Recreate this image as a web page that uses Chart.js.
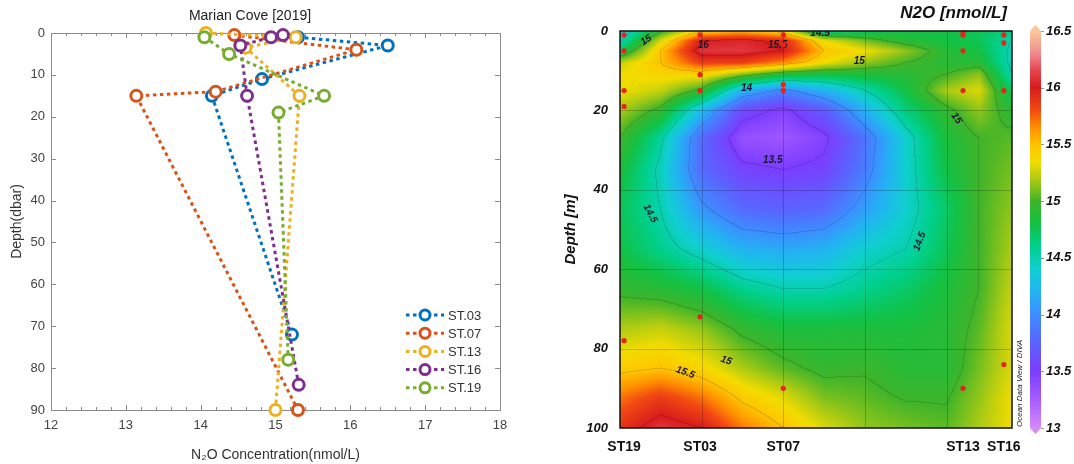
<!DOCTYPE html>
<html>
<head>
<meta charset="utf-8">
<script src="https://cdn.jsdelivr.net/npm/chart.js@4.4.1/dist/chart.umd.min.js"></script>
<style>
  html, body { margin: 0; padding: 0; background: #fff; }
  #wrap { position: relative; width: 1074px; height: 464px; }
  #left { position: absolute; left: 0; top: 0; width: 540px; height: 464px; }
  #right { position: absolute; left: 540px; top: 0; width: 534px; height: 464px; }
</style>
</head>
<body>
<div id="wrap">
  <div id="left"><canvas id="profiles"></canvas></div>
  <div id="right"><canvas id="section"></canvas></div>
</div>
<script>
const FONT = "'Liberation Sans', Arial, Helvetica, sans-serif";

// ---- left panel: N2O profiles per station (concentration nmol/L vs depth dbar) ----
const stationNames = ["ST.03", "ST.07", "ST.13", "ST.16", "ST.19"];
const conc03 = [15.3, 16.5, 14.82, 14.15, 15.22];
const depth03 = [1, 3, 11, 15, 72];
const conc07 = [14.45, 16.08, 14.2, 13.14, 15.3];
const depth07 = [0.5, 4, 14, 15, 90];
const conc13 = [14.07, 15.27, 14.6, 15.32, 15.0];
const depth13 = [0, 1, 3.5, 15, 90];
const conc16 = [15.1, 14.94, 14.53, 14.62, 15.31];
const depth16 = [0.5, 1, 3, 15, 84];
const conc19 = [14.05, 14.38, 15.65, 15.04, 15.17];
const depth19 = [1, 5, 15, 19, 78];

// ---- right panel: section (ODV / DIVA gridded field) ----
const sectionStations = ["ST19", "ST03", "ST07", "ST13", "ST16"];
const stationDist = [0.05, 0.98, 2.0, 4.2, 4.7];
const sampleDepths = [
  [1, 5, 15, 19, 78],
  [1, 11, 15, 72],
  [1, 3.5, 13.5, 15, 90],
  [0.5, 1, 5, 15, 90],
  [1, 3, 15, 84],
];
// field: columns = gridDist, rows = gridDepth
const gridDist = [0, 0.5, 1, 1.5, 2, 2.5, 3, 3.5, 4, 4.4, 4.8];
const gridDepth = [0, 2.5, 5, 8, 11, 15, 20, 27, 35, 45, 55, 65, 75, 85, 92, 100];
const n2oGrid = [
  [14.3, 14.95, 15.45, 15.55, 15.4, 14.6, 14.7, 14.8, 14.8, 14.75, 14.6],
  [14.45, 15.3, 16.0, 16.05, 15.95, 15.35, 15.1, 14.9, 14.8, 14.75, 14.5],
  [14.75, 15.5, 16.1, 16.1, 16.0, 15.5, 15.35, 15.15, 14.9, 14.8, 14.45],
  [15.25, 15.5, 15.85, 15.85, 15.65, 15.35, 15.15, 15.0, 14.9, 14.9, 14.45],
  [15.35, 15.4, 15.4, 15.1, 14.85, 14.8, 14.85, 14.9, 15.0, 15.15, 14.5],
  [15.35, 15.25, 14.95, 14.2, 13.95, 14.2, 14.5, 14.8, 15.2, 15.3, 14.7],
  [15.2, 14.95, 14.25, 13.6, 13.45, 13.7, 14.2, 14.65, 14.95, 15.15, 14.9],
  [15.0, 14.55, 13.8, 13.35, 13.3, 13.45, 13.85, 14.4, 14.85, 15.0, 15.05],
  [14.85, 14.45, 13.8, 13.55, 13.5, 13.55, 13.9, 14.4, 14.8, 15.0, 15.1],
  [14.75, 14.5, 14.05, 13.8, 13.75, 13.8, 14.1, 14.4, 14.7, 15.0, 15.15],
  [14.8, 14.6, 14.4, 14.2, 14.15, 14.2, 14.4, 14.5, 14.75, 15.0, 15.2],
  [14.95, 14.9, 14.8, 14.6, 14.5, 14.5, 14.6, 14.7, 14.85, 15.0, 15.25],
  [15.2, 15.25, 15.15, 14.95, 14.85, 14.85, 14.85, 14.85, 14.9, 15.05, 15.3],
  [15.45, 15.5, 15.4, 15.2, 15.05, 14.95, 14.98, 14.9, 14.9, 15.1, 15.3],
  [15.7, 15.85, 15.7, 15.45, 15.3, 15.1, 15.05, 14.98, 14.98, 15.15, 15.35],
  [15.9, 16.1, 16.0, 15.7, 15.5, 15.3, 15.15, 15.1, 15.05, 15.2, 15.35],
];
const contourLabels = [
  { x: 0.32, d: 2.3, t: "15", r: -35 },
  { x: 1.02, d: 3.6, t: "16", r: 0 },
  { x: 1.93, d: 3.6, t: "15.5", r: 0 },
  { x: 2.45, d: 0.5, t: "14.5", r: 0 },
  { x: 2.93, d: 7.6, t: "15", r: 0 },
  { x: 1.55, d: 14.3, t: "14", r: 0 },
  { x: 1.87, d: 32.5, t: "13.5", r: 0 },
  { x: 0.37, d: 46, t: "14.5", r: 62 },
  { x: 3.67, d: 53, t: "14.5", r: -70 },
  { x: 4.12, d: 22, t: "15", r: 55 },
  { x: 1.3, d: 83, t: "15", r: 20 },
  { x: 0.8, d: 86, t: "15.5", r: 20 },
];

// ODV-like palette, value -> colour
const colorStops = [
  [13.0, "#d48cf7"], [13.25, "#a65cff"], [13.5, "#7b3dff"], [13.75, "#5b62ff"],
  [14.0, "#3d8dff"], [14.2, "#22b3f2"], [14.4, "#10cfcf"], [14.6, "#00d08c"],
  [14.8, "#12c144"], [15.0, "#3fb42a"], [15.2, "#aecb12"], [15.35, "#f2dc00"],
  [15.5, "#ffc400"], [15.65, "#ff8f00"], [15.8, "#f24a12"], [16.0, "#d81c1c"],
  [16.15, "#e44450"], [16.3, "#f08a8c"], [16.5, "#f9c99c"],
];

function hexRgb(h) {
  return [parseInt(h.slice(1, 3), 16), parseInt(h.slice(3, 5), 16), parseInt(h.slice(5, 7), 16)];
}
const stopRgb = colorStops.map(([v, c]) => [v, hexRgb(c)]);
function colorAt(v) {
  if (v <= stopRgb[0][0]) return stopRgb[0][1];
  for (let i = 1; i < stopRgb.length; i++) {
    if (v <= stopRgb[i][0]) {
      const [v0, c0] = stopRgb[i - 1], [v1, c1] = stopRgb[i];
      const t = (v - v0) / (v1 - v0);
      return [c0[0] + (c1[0] - c0[0]) * t, c0[1] + (c1[1] - c0[1]) * t, c0[2] + (c1[2] - c0[2]) * t];
    }
  }
  return stopRgb[stopRgb.length - 1][1];
}
function bracket(arr, v) {
  const n = arr.length - 1;
  if (v <= arr[0]) return [0, 0];
  if (v >= arr[n]) return [n - 1, 1];
  let i = 0;
  while (arr[i + 1] < v) i++;
  return [i, (v - arr[i]) / (arr[i + 1] - arr[i])];
}

// MATLAB-ish colours and dotted lines
const lineColors = ["#0072BD", "#D95319", "#EDB120", "#7E2F8E", "#77AC30"];
const profiles = [[conc03, depth03], [conc07, depth07], [conc13, depth13], [conc16, depth16], [conc19, depth19]];
const DASH = [3.5, 3.5];

const matlabAxes = {
  id: "matlabAxes",
  beforeDatasetsDraw(chart) {
    const { ctx, chartArea: a, scales: { x, y } } = chart;
    ctx.save();
    ctx.strokeStyle = "#8a8a8a";
    ctx.lineWidth = 1;
    ctx.strokeRect(a.left + 0.5, a.top + 0.5, a.right - a.left, a.bottom - a.top);
    ctx.beginPath();
    for (let k = 0; k <= 30; k++) {
      const v = 12 + k * 0.2;
      const px = Math.round(x.getPixelForValue(v)) + 0.5;
      const len = k % 5 === 0 ? 5 : 3;
      ctx.moveTo(px, a.bottom); ctx.lineTo(px, a.bottom - len);
      ctx.moveTo(px, a.top); ctx.lineTo(px, a.top + len);
    }
    for (let v = 10; v < 90; v += 10) {
      const py = Math.round(y.getPixelForValue(v)) + 0.5;
      ctx.moveTo(a.left, py); ctx.lineTo(a.left + 5, py);
      ctx.moveTo(a.right, py); ctx.lineTo(a.right - 5, py);
    }
    ctx.stroke();
    ctx.restore();
  },
  afterDraw(chart) {
    const { ctx, chartArea: a } = chart;
    ctx.save();
    chart.data.datasets.forEach((ds, i) => {
      const yy = a.top + 282 + i * 18.2;
      ctx.strokeStyle = ds.borderColor;
      ctx.lineWidth = 3;
      ctx.setLineDash(DASH);
      ctx.beginPath();
      ctx.moveTo(a.right - 94, yy); ctx.lineTo(a.right - 56, yy);
      ctx.stroke();
      ctx.setLineDash([]);
      ctx.beginPath();
      ctx.arc(a.right - 75, yy, 5, 0, Math.PI * 2);
      ctx.fillStyle = "#fff"; ctx.fill();
      ctx.lineWidth = 3; ctx.stroke();
      ctx.fillStyle = "#333";
      ctx.font = "13px " + FONT;
      ctx.textAlign = "left"; ctx.textBaseline = "middle";
      ctx.fillText(ds.label, a.right - 52, yy + 1);
    });
    ctx.restore();
  },
};

new Chart(document.getElementById("profiles"), {
  type: "scatter",
  data: {
    datasets: stationNames.map((name, i) => ({
      label: name,
      data: profiles[i][0].map((c, k) => ({ x: c, y: profiles[i][1][k] })),
      showLine: true,
      borderColor: lineColors[i],
      borderWidth: 3,
      borderDash: DASH,
      borderCapStyle: "butt",
      pointRadius: 5.5,
      pointBorderWidth: 3,
      pointBackgroundColor: "#fff",
      pointBorderColor: lineColors[i],
      order: 5 - i,
      clip: false,
    })),
  },
  options: {
    responsive: true, maintainAspectRatio: false, animation: false,
    layout: { padding: { left: 0, right: 40, top: 0, bottom: 0 } },
    plugins: {
      legend: { display: false },
      tooltip: { enabled: false },
      title: {
        display: true, text: "Marian Cove [2019]", color: "#222",
        font: { family: FONT, size: 14, weight: "normal" },
        padding: { top: 8, bottom: 8.2 },
      },
    },
    scales: {
      x: {
        type: "linear", min: 12, max: 18,
        grid: { display: false, drawTicks: false }, border: { display: false },
        ticks: { stepSize: 1, color: "#444", font: { family: FONT, size: 13 }, padding: 8 },
        title: { display: true, text: "N\u2082O Concentration(nmol/L)", color: "#333", font: { family: FONT, size: 14 }, padding: { top: 9, bottom: 0 } },
        afterFit: (s) => { s.height = 54; },
      },
      y: {
        type: "linear", reverse: true, min: 0, max: 90,
        grid: { display: false, drawTicks: false }, border: { display: false },
        ticks: { stepSize: 10, color: "#444", font: { family: FONT, size: 13 }, padding: 6 },
        title: { display: true, text: "Depth(dbar)", color: "#333", font: { family: FONT, size: 14 }, padding: { top: 9, bottom: 0 } },
        afterFit: (s) => { s.width = 51; },
      },
    },
  },
  plugins: [matlabAxes],
});

// ---- section plot ----
const sectionField = {
  id: "sectionField",
  beforeDatasetsDraw(chart) {
    const { ctx, chartArea: a, scales } = chart;
    const sx = scales.x, sy = scales.y;
    const w = Math.ceil(a.right - a.left), h = Math.ceil(a.bottom - a.top);
    const off = document.createElement("canvas");
    off.width = w; off.height = h;
    const octx = off.getContext("2d");
    const img = octx.createImageData(w, h);
    const vals = new Float32Array(w * h);
    const cols = [];
    for (let i = 0; i < w; i++) cols.push(bracket(gridDist, sx.getValueForPixel(a.left + i + 0.5)));
    for (let j = 0; j < h; j++) {
      const [r, t] = bracket(gridDepth, sy.getValueForPixel(a.top + j + 0.5));
      const r0 = n2oGrid[r], r1 = n2oGrid[r + 1];
      for (let i = 0; i < w; i++) {
        const [c, u] = cols[i];
        const top = r0[c] + (r0[c + 1] - r0[c]) * u;
        const bot = r1[c] + (r1[c + 1] - r1[c]) * u;
        vals[j * w + i] = top + (bot - top) * t;
      }
    }
    for (let k = 0; k < w * h; k++) {
      const i = k % w, j = (k / w) | 0;
      const v = vals[k];
      const lv = Math.floor(v / 0.5);
      let edge = false;
      if (i + 1 < w && Math.floor(vals[k + 1] / 0.5) !== lv) edge = true;
      if (j + 1 < h && Math.floor(vals[k + w] / 0.5) !== lv) edge = true;
      const c = colorAt(v);
      const f = edge ? 0.87 : 1;
      img.data[k * 4] = c[0] * f;
      img.data[k * 4 + 1] = c[1] * f;
      img.data[k * 4 + 2] = c[2] * f;
      img.data[k * 4 + 3] = 255;
    }
    octx.putImageData(img, 0, 0);
    ctx.save();
    ctx.drawImage(off, a.left, a.top, a.right - a.left, a.bottom - a.top);

    // faint grid
    ctx.strokeStyle = "rgba(0,0,0,0.2)";
    ctx.lineWidth = 1;
    ctx.beginPath();
    for (let v = 1; v <= 4; v++) {
      const px = Math.round(sx.getPixelForValue(v)) + 0.5;
      ctx.moveTo(px, a.top); ctx.lineTo(px, a.bottom);
    }
    for (let d = 20; d <= 80; d += 20) {
      const py = Math.round(sy.getPixelForValue(d)) + 0.5;
      ctx.moveTo(a.left, py); ctx.lineTo(a.right, py);
    }
    ctx.stroke();

    // contour labels
    ctx.beginPath();
    ctx.rect(a.left, a.top, a.right - a.left, a.bottom - a.top);
    ctx.clip();
    ctx.fillStyle = "#151530";
    ctx.font = "italic bold 10px " + FONT;
    ctx.textAlign = "center"; ctx.textBaseline = "middle";
    contourLabels.forEach((l) => {
      ctx.save();
      ctx.translate(sx.getPixelForValue(l.x), sy.getPixelForValue(l.d));
      ctx.rotate(l.r * Math.PI / 180);
      ctx.fillText(l.t, 0, 0);
      ctx.restore();
    });
    ctx.restore();
  },
  afterDraw(chart) {
    const { ctx, chartArea: a, scales } = chart;
    const cb = scales.cb;
    ctx.save();
    // frame
    ctx.strokeStyle = "#111";
    ctx.lineWidth = 1.5;
    ctx.strokeRect(a.left, a.top, a.right - a.left, a.bottom - a.top);

    // colour bar
    const x0 = a.right + 18, x1 = a.right + 29;
    const yTop = cb.getPixelForValue(16.5), yBot = cb.getPixelForValue(13);
    const grad = ctx.createLinearGradient(0, yBot, 0, yTop);
    colorStops.forEach(([v, c]) => grad.addColorStop((v - 13) / 3.5, c));
    ctx.fillStyle = grad;
    ctx.beginPath();
    ctx.moveTo((x0 + x1) / 2, yTop - 6);
    ctx.lineTo(x1, yTop);
    ctx.lineTo(x1, yBot);
    ctx.lineTo((x0 + x1) / 2, yBot + 6);
    ctx.lineTo(x0, yBot);
    ctx.lineTo(x0, yTop);
    ctx.closePath();
    ctx.fill();
    ctx.strokeStyle = "#999";
    ctx.lineWidth = 1;
    ctx.beginPath();
    for (let v = 13; v <= 16.5; v += 0.5) {
      const py = Math.round(cb.getPixelForValue(v)) + 0.5;
      ctx.moveTo(x1, py); ctx.lineTo(x1 + 3, py);
    }
    ctx.stroke();

    // title
    ctx.fillStyle = "#111";
    ctx.font = "italic bold 17px " + FONT;
    ctx.textAlign = "right"; ctx.textBaseline = "middle";
    ctx.fillText("N2O [nmol/L]", a.right - 5, 13);

    // ODV credit
    ctx.save();
    ctx.translate(a.right + 8, a.bottom - 1);
    ctx.rotate(-Math.PI / 2);
    ctx.font = "italic 8px " + FONT;
    ctx.fillStyle = "#222";
    ctx.textAlign = "left";
    ctx.fillText("Ocean Data View / DIVA", 0, 0);
    ctx.restore();
    ctx.restore();
  },
};

const axisOff = { display: false, drawTicks: false };
new Chart(document.getElementById("section"), {
  type: "scatter",
  data: {
    datasets: [{
      label: "samples",
      data: stationDist.flatMap((x, s) => sampleDepths[s].map((d) => ({ x, y: d }))),
      pointRadius: 2.6,
      pointBorderWidth: 0,
      backgroundColor: "#e3261c",
      clip: false,
    }],
  },
  options: {
    responsive: true, maintainAspectRatio: false, animation: false,
    layout: { padding: { left: 0, right: 0, top: 31, bottom: 0 } },
    plugins: { legend: { display: false }, tooltip: { enabled: false } },
    scales: {
      x: {
        type: "linear", min: 0, max: 4.8,
        grid: axisOff, border: { display: false },
        afterBuildTicks: (s) => { s.ticks = stationDist.map((v) => ({ value: v })); },
        ticks: {
          autoSkip: false, maxRotation: 0, minRotation: 0, padding: 11, color: "#111",
          font: { family: FONT, size: 14, weight: "bold" },
          callback: (v, i) => sectionStations[i],
        },
        afterFit: (s) => { s.height = 36; },
      },
      y: {
        type: "linear", reverse: true, min: 0, max: 100,
        grid: axisOff, border: { display: false },
        ticks: { stepSize: 20, padding: 12, color: "#111", font: { family: FONT, size: 13, weight: "bold", style: "italic" } },
        title: { display: true, text: "Depth [m]", color: "#111", font: { family: FONT, size: 15, weight: "bold", style: "italic" }, padding: { top: 22, bottom: 0 } },
        afterFit: (s) => { s.width = 80; },
      },
      // empty band that holds the colour bar itself
      barGap: {
        type: "linear", position: "right", weight: 0, min: 13, max: 16.5,
        grid: axisOff, border: { display: false }, ticks: { display: false },
        afterFit: (s) => { s.width = 30; },
      },
      cb: {
        type: "linear", position: "right", weight: 1, min: 13, max: 16.5,
        grid: axisOff, border: { display: false },
        ticks: { stepSize: 0.5, padding: 4, color: "#111", font: { family: FONT, size: 13, weight: "bold", style: "italic" }, callback: (v) => String(v) },
        afterFit: (s) => { s.width = 32; },
      },
    },
  },
  plugins: [sectionField],
});
</script>
</body>
</html>
